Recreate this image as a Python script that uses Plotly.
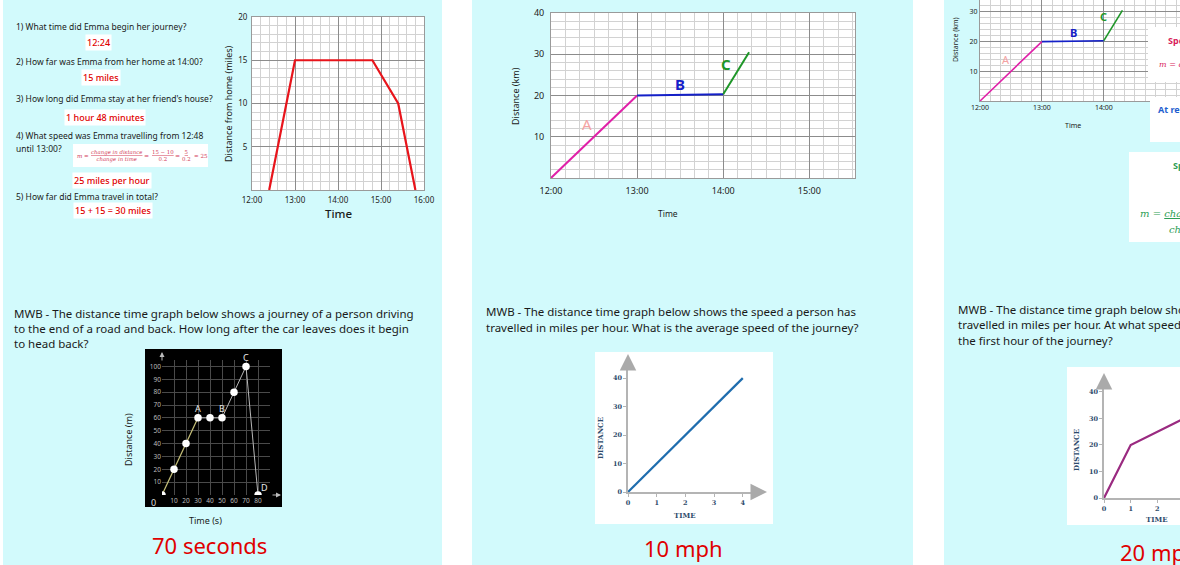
import plotly.graph_objects as go

W, H = 1180, 565
def px(x): return x / W
def py(y): return 1 - y / H

# ---------------- data ----------------
emma_time = [12.4, 13.0, 14.8, 15.4, 15.8]
emma_dist = [0, 15, 15, 10, 0]
emma_xticks = [12, 13, 14, 15, 16]
emma_xlabels = ["12:00", "13:00", "14:00", "15:00", "16:00"]
emma_yticks = [5, 10, 15, 20]

seg_a_time = [12, 13]
seg_a_dist = [0, 20]
seg_b_time = [13, 14]
seg_b_dist = [20, 20.3]
seg_c_time = [14, 14.3]
seg_c_dist = [20.3, 30.5]
abc_xticks = [12, 13, 14, 15]
abc_xlabels = ["12:00", "13:00", "14:00", "15:00"]
abc_yticks = [10, 20, 30, 40]

car_time = [0, 10, 20, 30, 40, 50, 60, 70, 80]
car_dist = [0, 20, 40, 60, 60, 60, 80, 100, 0]
car_xticks = [10, 20, 30, 40, 50, 60, 70, 80]
car_yticks = [10, 20, 30, 40, 50, 60, 70, 80, 90, 100]
car_point_names = ["A", "B", "C", "D"]
car_point_time = [30, 50, 70, 80]
car_point_dist = [60, 60, 100, 0]

avg_time = [0, 4]
avg_dist = [0, 40]
first_time = [0, 1, 3, 4]
first_dist = [0, 20, 30, 40]
mph_xticks = [0, 1, 2, 3, 4]
mph_yticks = [0, 10, 20, 30, 40]

CYAN = "#D2FAFC"
FONT = "Noto Sans"
RED = "#E00000"

fig = go.Figure()

# ---------- traces ----------
fig.add_trace(go.Scatter(x=emma_time, y=emma_dist, mode="lines",
                         line=dict(color="#E8141B", width=2.2), xaxis="x", yaxis="y"))
for xa, ya in (("x2", "y2"), ("x3", "y3")):
    w = 2 if xa == "x2" else 1.6
    fig.add_trace(go.Scatter(x=seg_a_time, y=seg_a_dist, mode="lines",
                             line=dict(color="#E020A8", width=w), xaxis=xa, yaxis=ya))
    fig.add_trace(go.Scatter(x=seg_b_time, y=seg_b_dist, mode="lines",
                             line=dict(color="#1420C8", width=w), xaxis=xa, yaxis=ya))
    fig.add_trace(go.Scatter(x=seg_c_time, y=seg_c_dist, mode="lines",
                             line=dict(color="#1E9628", width=w), xaxis=xa, yaxis=ya))

fig.add_trace(go.Scatter(x=car_time[:4], y=car_dist[:4], mode="lines",
                         line=dict(color="#C8C27A", width=1.2), xaxis="x4", yaxis="y4"))
fig.add_trace(go.Scatter(x=car_time[3:], y=car_dist[3:], mode="lines",
                         line=dict(color="#B8B8B8", width=1), xaxis="x4", yaxis="y4"))
fig.add_trace(go.Scatter(x=car_time, y=car_dist, mode="markers",
                         marker=dict(color="white", size=7.5), xaxis="x4", yaxis="y4"))

fig.add_trace(go.Scatter(x=avg_time, y=avg_dist, mode="lines",
                         line=dict(color="#1F6DAE", width=2.2), xaxis="x5", yaxis="y5"))
fig.add_trace(go.Scatter(x=first_time, y=first_dist, mode="lines",
                         line=dict(color="#9A2A80", width=2.2), xaxis="x6", yaxis="y6"))

# ---------- axes ----------
def grid_axis(domain, rng, tickvals, ticktext, minor_dtick, minor_tick0, size, anchor):
    return dict(domain=domain, range=rng, tickmode="array", tickvals=tickvals,
                ticktext=ticktext, showgrid=True, gridcolor="#8C8C8C", gridwidth=1,
                minor=dict(tick0=minor_tick0, dtick=minor_dtick, showgrid=True,
                           gridcolor="#D2D2D2", gridwidth=1),
                zeroline=False, showline=True, linecolor="#9A9A9A", mirror=True,
                ticks="", tickfont=dict(family=FONT, size=size, color="#222"),
                anchor=anchor, fixedrange=True, automargin=False)

layout = dict(
    width=W, height=H, margin=dict(l=0, r=0, t=0, b=0, autoexpand=False),
    paper_bgcolor="white", plot_bgcolor="rgba(0,0,0,0)", showlegend=False,
    xaxis=grid_axis([px(252), px(424)], [12, 16], emma_xticks, emma_xlabels, 0.2, 12, 8, "y"),
    yaxis=grid_axis([py(190), py(17)], [0, 20], emma_yticks, [str(v) for v in emma_yticks], 1, 0, 8, "x"),
    xaxis2=grid_axis([px(551), px(855)], [12, 15.53], abc_xticks, abc_xlabels, 1/6, 12, 9, "y2"),
    yaxis2=grid_axis([py(178), py(13)], [0, 40], abc_yticks, [str(v) for v in abc_yticks], 2, 0, 9, "x2"),
    xaxis3=grid_axis([px(980), px(1180)], [12, 15.23], abc_xticks[:3], abc_xlabels[:3], 1/6, 12, 7, "y3"),
    yaxis3=grid_axis([py(101), py(0)], [0, 34], abc_yticks, [str(v) for v in abc_yticks], 2, 0, 7, "x3"),
)
layout["xaxis"]["ticklabelstandoff"] = 2
layout["yaxis"]["ticklabelstandoff"] = 2
layout["xaxis2"]["ticklabelstandoff"] = 4
layout["yaxis2"]["ticklabelstandoff"] = 4

layout["xaxis4"] = dict(domain=[px(162), px(270)], range=[0, 90], tickmode="array",
                        tickvals=car_xticks, showgrid=True, gridcolor="#4A4A4A",
                        zeroline=False, showline=False, ticks="",
                        tickfont=dict(family=FONT, size=6.5, color="#BBBBBB"),
                        anchor="y4", fixedrange=True, automargin=False)
layout["yaxis4"] = dict(domain=[py(495), py(360)], range=[0, 105], tickmode="array",
                        tickvals=car_yticks, showgrid=True, gridcolor="#4A4A4A",
                        zeroline=False, showline=False, ticks="",
                        tickfont=dict(family=FONT, size=6.5, color="#BBBBBB"),
                        anchor="x4", fixedrange=True, automargin=False)

def mph_axis(domain, rng, tickvals, anchor):
    return dict(domain=domain, range=rng, tickmode="array", tickvals=tickvals,
                showgrid=False, zeroline=False, showline=True, linecolor="#B4B4B4",
                linewidth=1.5, ticks="outside", ticklen=3, tickcolor="#B4B4B4",
                tickfont=dict(family="DejaVu Serif", size=6.5, color="#2D4A6B", weight="bold"),
                anchor=anchor, fixedrange=True, automargin=False)

layout["xaxis5"] = mph_axis([px(628), px(760)], [0, 4.6], mph_xticks, "y5")
layout["yaxis5"] = mph_axis([py(492), py(365)], [0, 44.6], mph_yticks, "x5")
layout["xaxis6"] = mph_axis([px(1104), px(1180)], [0, 2.85], mph_xticks, "y6")
layout["yaxis6"] = mph_axis([py(498), py(385)], [0, 42.6], mph_yticks, "x6")

fig.update_layout(**layout)

# ---------- shapes ----------
def rect(x0, y0, x1, y1, color, layer="below"):
    fig.add_shape(type="rect", xref="paper", yref="paper",
                  x0=px(x0), x1=px(x1), y0=py(y1), y1=py(y0),
                  fillcolor=color, line=dict(width=0), layer=layer)

rect(3, 0, 442, 565, CYAN)
rect(472, 0, 913, 565, CYAN)
rect(944, 0, 1185, 565, CYAN)
rect(252, 17, 424, 190, "white")
rect(551, 13, 855, 178, "white")
rect(980, 0, 1185, 101, "white")
rect(145, 349, 282, 507, "black")
rect(595, 352, 773, 524, "white")
rect(1067, 367, 1185, 525, "white")
# formula box and boxes over the top-right graph
rect(73, 144, 208, 167, "white", "above")
rect(1148, 27, 1185, 82, "white", "above")
rect(1150, 97, 1185, 142, "white", "above")
rect(1129, 152, 1185, 242, "white", "above")

# ---------- annotations ----------
def txt(x, y, text, size=10, color="#1A1A1A", anchor="left", family=FONT, angle=0,
        bg=None, weight="normal", yanchor="middle"):
    fig.add_annotation(x=px(x), y=py(y), xref="paper", yref="paper", text=text,
                       showarrow=False, xanchor=anchor, yanchor=yanchor, textangle=angle,
                       font=dict(family=family, size=size, color=color, weight=weight),
                       bgcolor=bg, borderpad=1)

# top-left questions
q = [
    (27, "1) What time did Emma begin her journey?"),
    (61, "2) How far was Emma from her home at 14:00?"),
    (99, "3) How long did Emma stay at her friend's house?"),
    (135, "4) What speed was Emma travelling from 12:48"),
    (148, "until 13:00?"),
    (196, "5) How far did Emma travel in total?"),
]
for y, t in q:
    txt(14, y, t, size=8.5)
answers = [(98, 43, "12:24"), (101, 78, "15 miles"), (105, 117, "1 hour 48 minutes"),
           (112, 180, "25 miles per hour"), (113, 210, "15 + 15 = 30 miles")]
for x, y, t in answers:
    txt(x, y, t, size=9, color=RED, anchor="center", bg="white", weight=500)

FC = "#D2405A"
txt(75, 156, "<i>m</i> =", size=5.6, color=FC, family="DejaVu Serif")
txt(116, 156, "<i><u>change in distance</u></i><br><i>change in time</i>", size=5.4, color=FC,
    anchor="center", family="DejaVu Serif")
txt(146, 156, "=", size=6, color=FC, anchor="center", family="DejaVu Serif")
txt(163, 156, "<u>15 − 10</u><br>0.2", size=5.4, color=FC, anchor="center", family="DejaVu Serif")
txt(177, 156, "=", size=6, color=FC, anchor="center", family="DejaVu Serif")
txt(186, 156, "<u>5</u><br>0.2", size=5.4, color=FC, anchor="center", family="DejaVu Serif")
txt(192, 156, "= 25", size=5.6, color=FC, family="DejaVu Serif")

txt(228, 104, "Distance from home (miles)", size=9, anchor="center", angle=-90)
txt(338, 214, "Time", size=11.5, anchor="center", weight=500)

# top-middle
txt(515, 96, "Distance (km)", size=9, anchor="center", angle=-90)
txt(668, 213, "Time", size=8.5, anchor="center")
txt(587, 124, "A", size=15, color="#F4A3A3", anchor="center")
txt(680, 84, "B", size=15, color="#1420C8", anchor="center", weight="bold")
txt(726, 64, "C", size=15, color="#1E9628", anchor="center", weight="bold")

# top-right
txt(955, 40, "Distance (km)", size=7, anchor="center", angle=-90)
txt(1073, 125, "Time", size=7, anchor="center")
txt(1006, 60, "A", size=11, color="#F4A3A3", anchor="center")
txt(1073, 32, "B", size=11, color="#1420C8", anchor="center", weight="bold")
txt(1103, 17, "C", size=11, color="#1E9628", anchor="center", weight="bold")
txt(1166, 40, "Speed of A", size=9, color="#D81E5B", weight="bold")
txt(1157, 65, "<i>m</i> = <i>change in distance</i>", size=8, color="#D81E5B", family="DejaVu Serif")
txt(1156, 110, "At rest at B", size=9, color="#1F5FD0", weight="bold")
txt(1171, 165, "Speed of C", size=9, color="#2E9E55", weight="bold")
txt(1138, 213, "<i>m</i> = <i><u>change in distance</u></i>", size=10, color="#2E9E55", family="DejaVu Serif")
txt(1167, 229, "<i>change in time</i>", size=10, color="#2E9E55", family="DejaVu Serif")

# bottom questions
QS = 11.5
txt(12, 313, "MWB - The distance time graph below shows a journey of a person driving", size=QS)
txt(12, 328, "to the end of a road and back. How long after the car leaves does it begin", size=QS)
txt(12, 343, "to head back?", size=QS)
txt(484, 311, "MWB - The distance time graph below shows the speed a person has", size=QS)
txt(484, 327, "travelled in miles per hour. What is the average speed of the journey?", size=QS)
txt(956, 309, "MWB - The distance time graph below shows the speed a person has", size=QS)
txt(956, 324, "travelled in miles per hour. At what speed is the person travelling in", size=QS)
txt(956, 340, "the first hour of the journey?", size=QS)

# bottom-left chart labels
txt(128, 440, "Distance (m)", size=9, anchor="center", angle=-90)
txt(205, 520, "Time (s)", size=9, anchor="center")
txt(209, 545, "70 seconds", size=22, color=RED, anchor="center")
txt(153, 502, "0", size=9, color="#DDDDDD", anchor="center")
for name, t, d in zip(car_point_names, car_point_time, car_point_dist):
    dx, dy = (6, -8) if name == "D" else (0, -9)
    fig.add_annotation(x=t, y=d, xref="x4", yref="y4", text=name, showarrow=False,
                       xshift=dx, yshift=-dy, font=dict(family=FONT, size=9, color="#E8E8E8"))

# bottom-middle / right chart labels
txt(600, 438, "DISTANCE", size=7, color="#2D4A6B", anchor="center", angle=-90,
    family="DejaVu Serif", weight="bold")
txt(685, 515, "TIME", size=7, color="#2D4A6B", anchor="center", family="DejaVu Serif", weight="bold")
txt(683, 548, "10 mph", size=22, color=RED, anchor="center")
txt(1076, 450, "DISTANCE", size=7, color="#2D4A6B", anchor="center", angle=-90,
    family="DejaVu Serif", weight="bold")
txt(1157, 519, "TIME", size=7, color="#2D4A6B", anchor="center", family="DejaVu Serif", weight="bold")
txt(1118, 552, "20 mph", size=22, color=RED)

# axis arrow heads
def arrow(x, y, ax, ay, color="#AAAAAA", size=2.2, width=1.5):
    fig.add_annotation(x=px(x), y=py(y), xref="paper", yref="paper", text="",
                       showarrow=True, ax=ax, ay=ay, arrowhead=2, arrowsize=size,
                       arrowwidth=width, arrowcolor=color)
arrow(628, 354, 0, 14)
arrow(767, 492, -14, 0)
arrow(1104, 373, 0, 14)
arrow(162, 352, 0, 10, color="#BBBBBB", size=1, width=1)
arrow(281, 495, -10, 0, color="#BBBBBB", size=1, width=1)

fig.write_html("out.html", config={"displayModeBar": False},
               post_script="document.body.style.margin='0';document.body.style.overflow='hidden';")
